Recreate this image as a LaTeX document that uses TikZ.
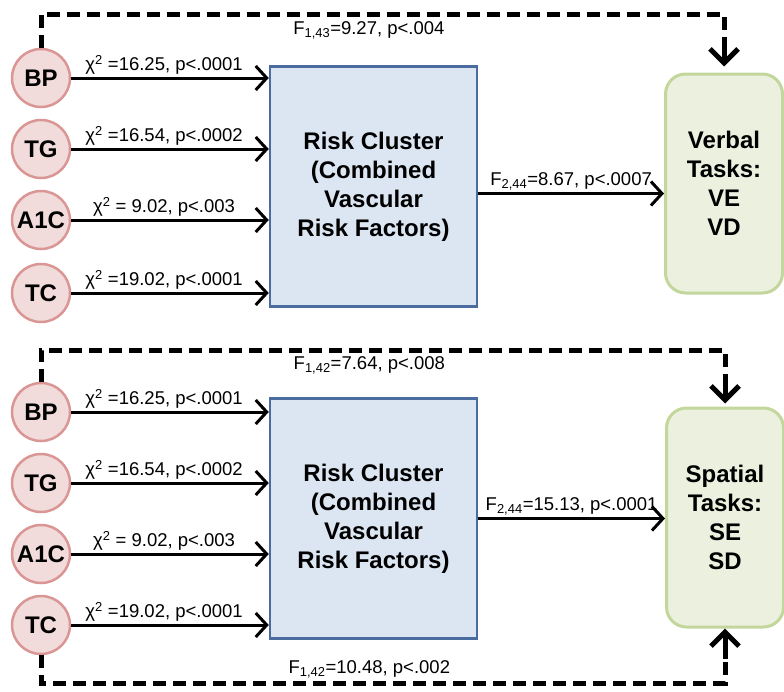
\documentclass[tikz,border=0pt]{standalone}
\usepackage{fontspec}
\setmainfont{Liberation Sans}
\usetikzlibrary{arrows.meta,positioning,calc}
\definecolor{factorfill}{RGB}{242,220,219}
\definecolor{factordraw}{RGB}{217,150,148}
\definecolor{clusterfill}{RGB}{220,230,242}
\definecolor{clusterdraw}{RGB}{74,108,158}
\definecolor{taskfill}{RGB}{235,241,222}
\definecolor{taskdraw}{RGB}{195,214,155}

\tikzset{
  riskfactor/.style={circle, draw=factordraw, fill=factorfill, line width=2.5pt,
    minimum size=58pt, inner sep=0pt, font=\fontsize{24}{28}\selectfont\bfseries},
  cluster/.style={draw=clusterdraw, fill=clusterfill, line width=2.5pt,
    minimum width=207pt, minimum height=240pt, align=center,
    font=\fontsize{24}{29}\selectfont\bfseries},
  taskbox/.style={draw=taskdraw, fill=taskfill, line width=3pt, rounded corners=20pt,
    minimum width=117pt, minimum height=219pt, align=center,
    font=\fontsize{24}{29}\selectfont\bfseries},
  effect/.style={line width=3pt, -{Straight Barb[length=11pt,width=24pt]}},
  direct/.style={line width=5pt, dash pattern=on 13pt off 7pt},
  directtip/.style={line width=5pt, -{Straight Barb[length=14pt,width=28pt]}},
  stat/.style={font=\fontsize{18.5}{22}\selectfont, inner sep=2pt},
}

\begin{document}
\begin{tikzpicture}[x=1pt,y=-1pt]
\useasboundingbox (0,0) rectangle (784,691);

% -------- Verbal model --------
\node[riskfactor] (bp1)  at (41,78)  {BP};
\node[riskfactor] (tg1)  at (41,149) {TG};
\node[riskfactor] (a1c1) at (41,220) {A1C};
\node[riskfactor] (tc1)  at (41,293) {TC};
\node[cluster] (cluster1) at (373.5,186.5) {Risk Cluster\\(Combined\\Vascular\\Risk Factors)};
\node[taskbox] (verbal) at (724,183.5) {Verbal\\Tasks:\\VE\\VD};
\coordinate (vtop) at ($(verbal.north)+(0,-30)$);

\draw[effect] (bp1.east) -- node[pos=0.47,above,stat] {χ\textsuperscript{2} =16.25, p<.0001} (bp1.east -| cluster1.west);
\draw[effect] (tg1.east) -- node[pos=0.47,above,stat] {χ\textsuperscript{2} =16.54, p<.0002} (tg1.east -| cluster1.west);
\draw[effect] (a1c1.east) -- node[pos=0.47,above,stat] {χ\textsuperscript{2} = 9.02, p<.003} (a1c1.east -| cluster1.west);
\draw[effect] (tc1.east) -- node[pos=0.47,above,stat] {χ\textsuperscript{2} =19.02, p<.0001} (tc1.east -| cluster1.west);
\draw[effect] ([yshift=-7pt]cluster1.east) -- node[midway,above,stat] {F\textsubscript{2,44}=8.67, p<.0007} ([yshift=-7pt]cluster1.east -| verbal.west);
\draw[direct] (bp1.north) -- (bp1.north |- 0,14) -| node[pos=0.24,below=3pt,stat] {F\textsubscript{1,43}=9.27, p<.004} (vtop);
\draw[directtip, shorten >=6pt] (vtop) -- (verbal.north);

% -------- Spatial model --------
\node[riskfactor] (bp2)  at (41,412) {BP};
\node[riskfactor] (tg2)  at (41,483) {TG};
\node[riskfactor] (a1c2) at (41,554) {A1C};
\node[riskfactor] (tc2)  at (41,625) {TC};
\node[cluster] (cluster2) at (373.5,518.5) {Risk Cluster\\(Combined\\Vascular\\Risk Factors)};
\node[taskbox] (spatial) at (725,517.5) {Spatial\\Tasks:\\SE\\SD};
\coordinate (stop) at ($(spatial.north)+(0,-26)$);
\coordinate (sbot) at ($(spatial.south)+(0,30)$);

\draw[effect] (bp2.east) -- node[pos=0.47,above,stat] {χ\textsuperscript{2} =16.25, p<.0001} (bp2.east -| cluster2.west);
\draw[effect] (tg2.east) -- node[pos=0.47,above,stat] {χ\textsuperscript{2} =16.54, p<.0002} (tg2.east -| cluster2.west);
\draw[effect] (a1c2.east) -- node[pos=0.47,above,stat] {χ\textsuperscript{2} = 9.02, p<.003} (a1c2.east -| cluster2.west);
\draw[effect] (tc2.east) -- node[pos=0.47,above,stat] {χ\textsuperscript{2} =19.02, p<.0001} (tc2.east -| cluster2.west);
\draw[effect] (cluster2.east) -- node[midway,above,stat] {F\textsubscript{2,44}=15.13, p<.0001} (cluster2.east -| spatial.west);
\draw[direct] (bp2.north) -- (bp2.north |- 0,350) -| node[pos=0.24,below=2pt,stat] {F\textsubscript{1,42}=7.64, p<.008} (stop);
\draw[directtip, shorten >=3pt] (stop) -- (spatial.north);
\draw[direct] (tc2.south) -- (tc2.south |- 0,683) -| node[pos=0.24,above,stat] {F\textsubscript{1,42}=10.48, p<.002} (sbot);
\draw[directtip] (sbot) -- (spatial.south);

\end{tikzpicture}
\end{document}
